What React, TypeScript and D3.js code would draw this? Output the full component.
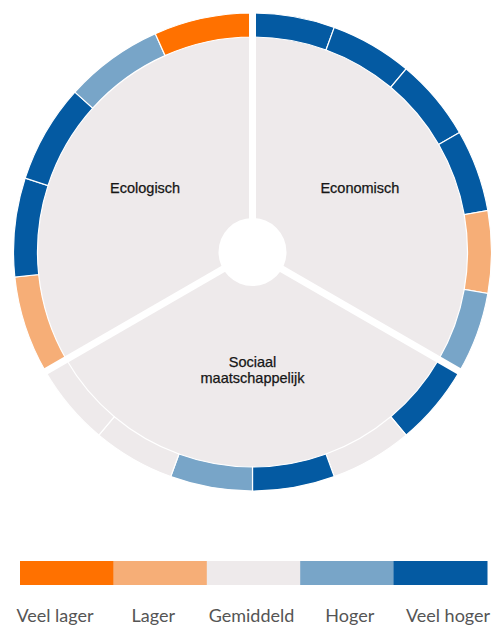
import React, { useRef, useEffect } from 'react';
import * as d3 from 'd3';

// score levels 1..5
const levels = ['Veel lager', 'Lager', 'Gemiddeld', 'Hoger', 'Veel hoger'];
const levelColors = ['#FF7100', '#F6AE77', '#EEEAEB', '#78A5C8', '#045AA2'];

const sectors = ['Economisch', 'Sociaal maatschappelijk', 'Ecologisch'];
const sectorLines = [['Economisch'], ['Sociaal', 'maatschappelijk'], ['Ecologisch']];

// indicator scores per sector, clockwise
const economischScores = [5, 5, 5, 5, 2, 4];
const sociaalScores = [5, 3, 5, 4, 3, 3];
const ecologischScores = [2, 5, 5, 4, 1];

const WIDTH = 496;
const HEIGHT = 627;

const App: React.FC = () => {
    const svgRef = useRef<SVGSVGElement | null>(null);

    useEffect(() => {
        if (!svgRef.current) return;
        const svg = d3.select(svgRef.current);
        svg.selectAll('*').remove();

        const cx = 252.5;
        const cy = 252;
        const outerR = 239;
        const ringR = 215;
        const holeR = 34;
        const labelR = 124;

        const scores = [economischScores, sociaalScores, ecologischScores];
        const color = d3.scaleOrdinal<number, string>().domain([1, 2, 3, 4, 5]).range(levelColors);

        const g = svg.append('g').attr('transform', `translate(${cx},${cy})`);

        const pie = d3.pie<string>().value(() => 1).sort(null);
        const sectorArcs = pie(sectors);

        const fillArc = d3.arc<any>().innerRadius(0).outerRadius(ringR);
        const ringArc = d3.arc<any>().innerRadius(ringR).outerRadius(outerR);

        // sector backgrounds
        g.selectAll('.sector')
            .data(sectorArcs)
            .enter()
            .append('path')
            .attr('class', 'sector')
            .attr('d', fillArc)
            .attr('fill', levelColors[2]);

        // ring segments
        sectorArcs.forEach((s, i) => {
            const vals = scores[i];
            const a = d3.scaleLinear().domain([0, vals.length]).range([s.startAngle, s.endAngle]);
            g.append('g')
                .selectAll('path')
                .data(vals)
                .enter()
                .append('path')
                .attr('d', (_d, j) => ringArc({ startAngle: a(j), endAngle: a(j + 1) }))
                .attr('fill', (d) => color(d))
                .attr('stroke', '#ffffff')
                .attr('stroke-width', 1.2);
        });

        // separators
        g.selectAll('.sep')
            .data(sectorArcs)
            .enter()
            .append('line')
            .attr('x1', 0)
            .attr('y1', 0)
            .attr('x2', (d) => Math.sin(d.startAngle) * (outerR + 4))
            .attr('y2', (d) => -Math.cos(d.startAngle) * (outerR + 4))
            .attr('stroke', '#ffffff')
            .attr('stroke-width', 7);

        g.append('circle').attr('r', holeR).attr('fill', '#ffffff');

        // labels
        sectorArcs.forEach((s, i) => {
            const mid = (s.startAngle + s.endAngle) / 2;
            const x = Math.sin(mid) * labelR;
            const y = -Math.cos(mid) * labelR;
            const lines = sectorLines[i];
            const n = lines.length;
            const t = g.append('text')
                .attr('text-anchor', 'middle')
                .style('font-family', '"Liberation Sans", Arial, sans-serif')
                .style('font-size', '14.5px')
                .attr('fill', '#161616')
                .attr('stroke', '#161616')
                .attr('stroke-width', 0.25);
            lines.forEach((ln, k) => {
                t.append('tspan')
                    .attr('x', x)
                    .attr('y', y + 3 + (k - (n - 1) / 2) * 16 - (n - 1) * 4)
                    .text(ln);
            });
        });

        // legend
        const lx = d3.scaleBand().domain(levels).range([20, 487]);
        svg.append('g')
            .selectAll('rect')
            .data(levels)
            .enter()
            .append('rect')
            .attr('x', (d) => lx(d)!)
            .attr('y', 561)
            .attr('width', lx.bandwidth() + 0.5)
            .attr('height', 24)
            .attr('fill', (_d, i) => levelColors[i]);

        const tx = d3.scalePoint().domain(levels).range([55, 448]);
        svg.append('g')
            .selectAll('text')
            .data(levels)
            .enter()
            .append('text')
            .attr('x', (d) => tx(d)!)
            .attr('y', 622)
            .attr('text-anchor', 'middle')
            .style('font-family', 'Lato, sans-serif')
            .style('font-size', '18px')
            .attr('fill', '#555')
            .text((d) => d);
    }, []);

    return (
        <svg
            ref={svgRef}
            width={WIDTH}
            height={HEIGHT}
            style={{ position: 'absolute', left: 0, top: 0, background: '#fff' }}
        ></svg>
    );
};

export default App;
